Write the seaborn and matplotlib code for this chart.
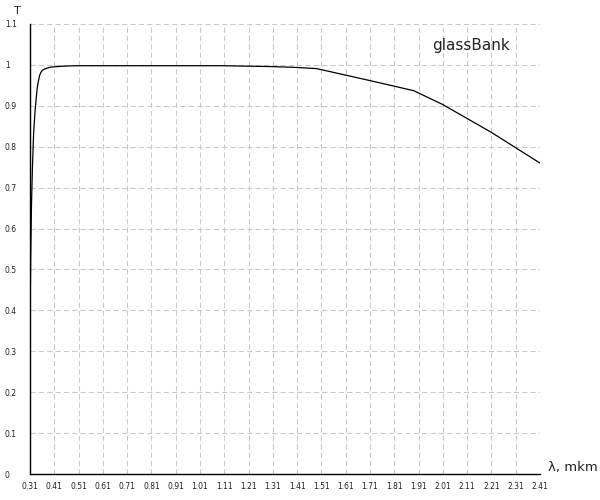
"""Transmission spectrum of glassBank: T vs wavelength (0.31 - 2.41 mkm)."""
import matplotlib
matplotlib.use("Agg")
import matplotlib.pyplot as plt
import pandas as pd
import seaborn as sns

# ── data ───────────────────────────────────────────────────────────────────
wavelength = [0.310, 0.3115, 0.313, 0.316, 0.320, 0.325, 0.330, 0.335, 0.340,
              0.345, 0.350, 0.355, 0.360, 0.370, 0.385, 0.40, 0.45, 0.50,
              0.70, 0.90, 1.10, 1.20, 1.30, 1.40, 1.49, 1.70, 1.89, 2.01,
              2.21, 2.41]
transmission = [0.390, 0.450, 0.535, 0.655, 0.750, 0.834, 0.880, 0.915, 0.945,
                0.962, 0.975, 0.982, 0.986, 0.990, 0.993, 0.995, 0.997, 0.998,
                0.998, 0.998, 0.998, 0.997, 0.996, 0.994, 0.991, 0.963, 0.937,
                0.903, 0.835, 0.760]

x_ticks = [0.31, 0.41, 0.51, 0.61, 0.71, 0.81, 0.91, 1.01, 1.11, 1.21, 1.31,
           1.41, 1.51, 1.61, 1.71, 1.81, 1.91, 2.01, 2.11, 2.21, 2.31, 2.41]
y_ticks = [0, 0.1, 0.2, 0.3, 0.4, 0.5, 0.6, 0.7, 0.8, 0.9, 1.0, 1.1]
y_tick_labels = ["0", "0.1", "0.2", "0.3", "0.4", "0.5", "0.6", "0.7",
                 "0.8", "0.9", "1", "1.1"]

series_name = "glassBank"
x_label = "λ, mkm"
y_label = "T"


def main() -> None:
    sns.set_style("white")
    plt.rcParams["font.family"] = ["DejaVu Sans"]

    df = pd.DataFrame({"wl": wavelength, "T": transmission})

    fig = plt.figure(figsize=(6, 5), dpi=100)
    ax = fig.add_axes([30 / 600, 1 - 474 / 500, 510 / 600, 450 / 500])

    sns.lineplot(data=df, x="wl", y="T", color="black", linewidth=0.9,
                 sort=False, ax=ax)

    ax.set_xlim(0.31, 2.41)
    ax.set_ylim(0, 1.1)
    ax.set_xticks(x_ticks)
    ax.set_xticklabels([f"{v:.2f}" for v in x_ticks])
    ax.set_yticks(y_ticks)
    ax.set_yticklabels(y_tick_labels)
    ax.set_xlabel("")
    ax.set_ylabel("")

    ax.grid(True, color="#c8c8c8", linestyle=(0, (5, 3)), linewidth=0.75)
    ax.set_axisbelow(True)

    for side in ("top", "right"):
        ax.spines[side].set_visible(False)
    for side in ("left", "bottom"):
        ax.spines[side].set_color("black")
        ax.spines[side].set_linewidth(1.0)

    ax.tick_params(axis="both", direction="inout", length=4.3, width=0.8,
                   color="black", labelsize=5.5, labelcolor="#222222")
    ax.tick_params(axis="x", pad=3.5)
    ax.tick_params(axis="y", pad=16)
    for lbl in ax.get_yticklabels():
        lbl.set_horizontalalignment("left")

    fig.text(17 / 600, 1 - 11 / 500, y_label, fontsize=8, ha="center",
             va="center", color="#222222")
    fig.text(548 / 600, 1 - 468 / 500, x_label, fontsize=9.5, ha="left",
             va="center", color="#222222")
    ax.text(0.865, 0.953, series_name, transform=ax.transAxes, fontsize=11,
            ha="center", va="center", color="#222222")

    fig.savefig("out.png", dpi=100)
    plt.close(fig)


if __name__ == "__main__":
    main()
